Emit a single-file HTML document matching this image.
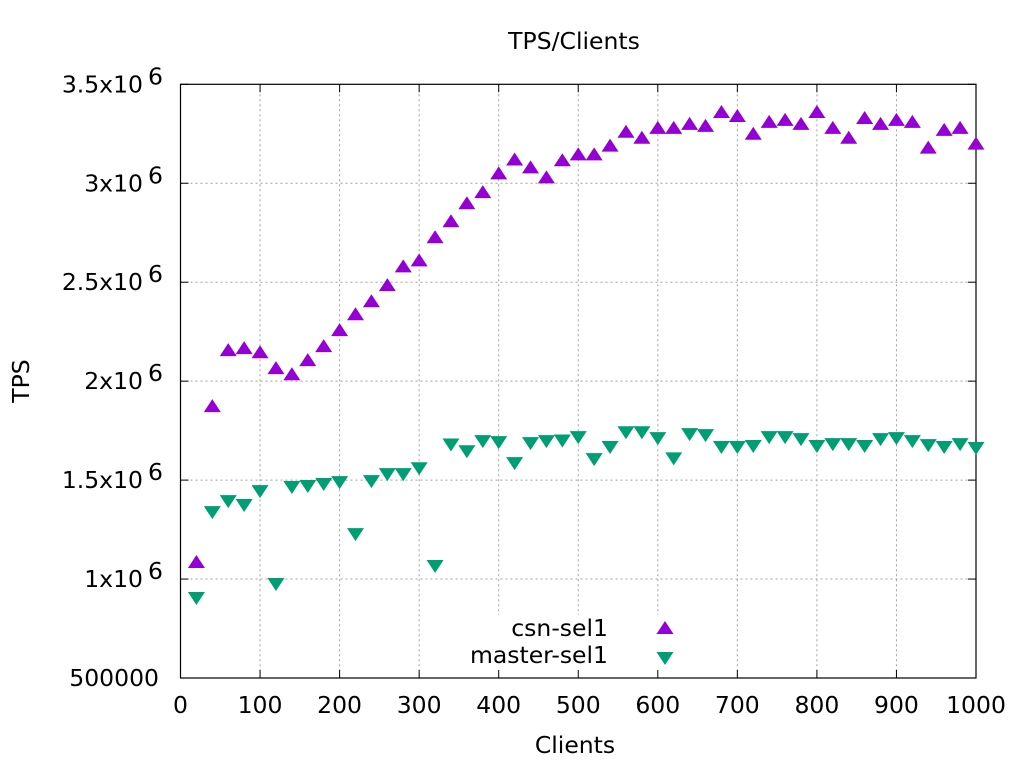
<!DOCTYPE html>
<html><head><meta charset="utf-8"><style>
html,body{margin:0;padding:0;background:#fff;}
svg text{font-family:"DejaVu Sans","Liberation Sans",sans-serif;font-size:23.5px;fill:#000;}
</style></head><body>
<svg id="chart" width="1024" height="768" xmlns="http://www.w3.org/2000/svg">
<text x="574" y="49" text-anchor="middle">TPS/Clients</text>
<text x="575" y="753" text-anchor="middle">Clients</text>
<text transform="translate(29,381) rotate(-90)" text-anchor="middle">TPS</text>
<g id="grid"></g><g id="axes"></g><g id="marks"></g><g id="legend"></g>
</svg>
<script>
const xs=[20,40,60,80,100,120,140,160,180,200,220,240,260,280,300,320,340,360,380,400,420,440,460,480,500,520,540,560,580,600,620,640,660,680,700,720,740,760,780,800,820,840,860,880,900,920,940,960,980,1000];
const csnSel1=[1.086,1.874,2.157,2.167,2.146,2.066,2.035,2.106,2.177,2.258,2.338,2.404,2.485,2.58,2.61,2.727,2.808,2.899,2.955,3.05,3.12,3.08,3.03,3.116,3.146,3.146,3.19,3.26,3.23,3.28,3.28,3.30,3.29,3.36,3.34,3.25,3.31,3.32,3.30,3.36,3.28,3.23,3.33,3.30,3.32,3.31,3.18,3.27,3.28,3.20];
const masterSel1=[0.904,1.338,1.394,1.374,1.444,0.975,1.465,1.47,1.48,1.49,1.227,1.495,1.53,1.53,1.56,1.066,1.68,1.646,1.697,1.692,1.586,1.687,1.697,1.70,1.717,1.606,1.667,1.742,1.742,1.712,1.61,1.732,1.727,1.667,1.667,1.672,1.717,1.717,1.707,1.672,1.682,1.682,1.672,1.707,1.712,1.697,1.677,1.667,1.682,1.662];
const xTicks=[0,100,200,300,400,500,600,700,800,900,1000];
const yTicks=[0.5,1,1.5,2,2.5,3,3.5];
const yTickLabels=["500000","1x10","1.5x10","2x10","2.5x10","3x10","3.5x10"];
const NS="http://www.w3.org/2000/svg";
const L=180.5,R=976,T=84.3,B=678;
const sx=v=>L+(v/1000)*(R-L);
const sy=v=>B-(v-0.5)/3*(B-T);
function mk(tag,attrs,parent){const e=document.createElementNS(NS,tag);for(const k in attrs)e.setAttribute(k,attrs[k]);parent.appendChild(e);return e;}
const grid=document.getElementById('grid'),axes=document.getElementById('axes'),marks=document.getElementById('marks'),leg=document.getElementById('legend');
xTicks.forEach(t=>{
 const x=sx(t);
 if(t>0&&t<1000){const g=mk('line',{x1:x,x2:x,y1:T,y2:B,stroke:'#a0a0a0','stroke-width':1,'stroke-dasharray':'2,3'},grid);
 
 }
 const tk=mk('line',{x1:x,x2:x,y1:B,y2:B-8,stroke:'#000'},axes);
 
 
 mk('line',{x1:x,x2:x,y1:T,y2:T+8,stroke:'#000'},axes);
 const tx=mk('text',{x:x,y:713,'text-anchor':'middle'},axes);tx.textContent=t;
 
 
});
yTicks.forEach((t,i)=>{
 const y=sy(t);
 if(i>0&&i<yTicks.length-1){const g=mk('line',{x1:L,x2:R,y1:y,y2:y,stroke:'#a0a0a0','stroke-width':1,'stroke-dasharray':'2,3'},grid);
 
 }
 mk('line',{x1:L,x2:L+8,y1:y,y2:y,stroke:'#000'},axes);
 mk('line',{x1:R,x2:R-8,y1:y,y2:y,stroke:'#000'},axes);
 const tx=mk('text',{x:i==0?159:143,y:y+8,'text-anchor':'end'},axes);tx.textContent=yTickLabels[i];
 
 
 if(i>0){const s=mk('text',{x:148,y:y},axes);s.textContent='6';
 
 }
});
mk('rect',{x:462,y:615,width:236,height:62,fill:'#fff'},grid);
const fr=mk('rect',{x:L,y:T,width:R-L,height:B-T,fill:'none',stroke:'#000','stroke-width':1.2},axes);


function up(x,y){return `${x},${y-7} ${x-8.5},${y+6} ${x+8.5},${y+6}`;}
function dn(x,y){return `${x},${y+7} ${x-8.5},${y-6} ${x+8.5},${y-6}`;}
xs.forEach((c,i)=>{
 const p=mk('polygon',{points:up(sx(c),sy(csnSel1[i])),fill:'#9400d3'},marks);
 
 
 const q=mk('polygon',{points:dn(sx(c),sy(masterSel1[i])),fill:'#009e73'},marks);
 
 
});
const l1=mk('text',{x:608,y:636,'text-anchor':'end'},leg);l1.textContent='csn-sel1';


mk('polygon',{points:up(665,628),fill:'#9400d3'},leg);
const l2=mk('text',{x:608,y:663,'text-anchor':'end'},leg);l2.textContent='master-sel1';


mk('polygon',{points:dn(665,658),fill:'#009e73'},leg);
</script>
</body></html>
